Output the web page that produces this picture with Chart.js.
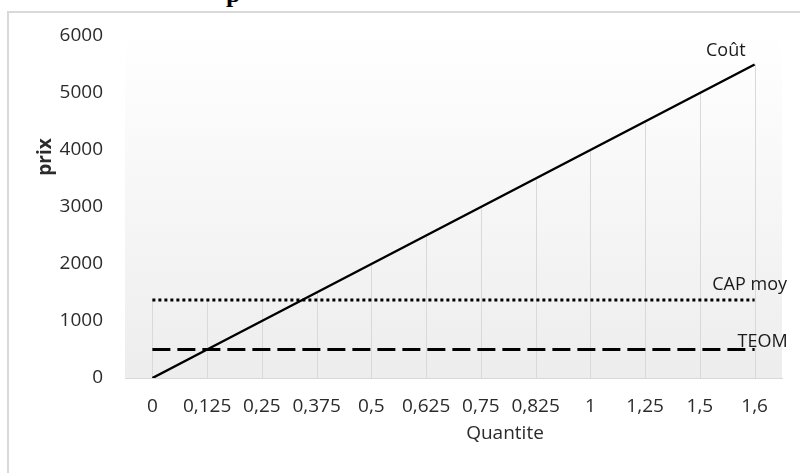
<!DOCTYPE html>
<html>
<head>
<meta charset="utf-8">
<script src="https://cdn.jsdelivr.net/npm/chart.js@4"></script>
<style>
    html, body { margin: 0; padding: 0; background: #fff; overflow: hidden; }
    #wrap { position: relative; width: 800px; height: 473px; }
    #frame { position: absolute; left: 7px; top: 11px; width: 820px; height: 500px; border: 2px solid #d9d9d9; box-sizing: border-box; }
    #cut { position: absolute; left: 226px; top: -21px; font: bold 26px 'Liberation Serif', serif; color: #000; }
    canvas { position: absolute; left: 0; top: 0; }
</style>
</head>
<body>
<div id="wrap">
    <div id="cut">p</div>
    <div id="frame"></div>
    <canvas id="chart" width="800" height="473"></canvas>
</div>
<script>
const quantites = ['0', '0,125', '0,25', '0,375', '0,5', '0,625', '0,75', '0,825', '1', '1,25', '1,5', '1,6'];
const cout      = [0, 500, 1000, 1500, 2000, 2500, 3000, 3500, 4000, 4500, 5000, 5500];
const capMoy    = [1370, 1370, 1370, 1370, 1370, 1370, 1370, 1370, 1370, 1370, 1370, 1370];
const teom      = [500, 500, 500, 500, 500, 500, 500, 500, 500, 500, 500, 500];
const prixTicks = [0, 1000, 2000, 3000, 4000, 5000, 6000];

const FONT = "'Open Sans', 'Noto Sans', sans-serif";
const TXT  = '#2b2b2b';

// plot area gradient + drop lines (Excel style)
const plotBack = {
    id: 'plotBack',
    beforeDatasetsDraw(chart) {
        const { ctx, chartArea: a, scales } = chart;
        const g = ctx.createLinearGradient(0, a.top, 0, a.bottom);
        g.addColorStop(0, '#ffffff');
        g.addColorStop(1, '#ededed');
        ctx.save();
        ctx.fillStyle = g;
        ctx.fillRect(a.left, a.top, a.right - a.left, a.bottom - a.top);

        ctx.strokeStyle = '#d9d9d9';
        ctx.lineWidth = 1;
        quantites.forEach(function (q, i) {
            let top = 0;
            chart.data.datasets.forEach(function (ds) { top = Math.max(top, ds.data[i]); });
            const x = Math.round(scales.x.getPixelForValue(i)) + 0.5;
            ctx.beginPath();
            ctx.moveTo(x, scales.y.getPixelForValue(0));
            ctx.lineTo(x, scales.y.getPixelForValue(top));
            ctx.stroke();
        });
        ctx.restore();
    }
};

// series name next to last point + axis titles
const labels = {
    id: 'labels',
    afterDatasetsDraw(chart) {
        const { ctx, chartArea: a } = chart;
        ctx.save();
        ctx.font = '18px ' + FONT;
        ctx.fillStyle = '#1a1a1a';
        ctx.textBaseline = 'middle';
        chart.data.datasets.forEach(function (ds, i) {
            const pt = chart.getDatasetMeta(i).data[ds.data.length - 1];
            ctx.textAlign = ds.labelAlign;
            ctx.fillText(ds.label, pt.x + ds.labelDx, pt.y + ds.labelDy);
        });

        ctx.fillStyle = TXT;
        ctx.textAlign = 'center';
        ctx.font = '19px ' + FONT;
        ctx.fillText('Quantite', 505, a.bottom + 56);

        ctx.translate(46, 157);
        ctx.rotate(-Math.PI / 2);
        ctx.font = 'bold 19px ' + FONT;
        ctx.fillText('prix', 0, 0);
        ctx.restore();
    }
};

new Chart(document.getElementById('chart'), {
    type: 'line',
    data: {
        labels: quantites,
        datasets: [
            { label: 'Coût', data: cout, borderColor: '#000', borderWidth: 2.5,
              labelAlign: 'right', labelDx: -9, labelDy: -14 },
            { label: 'CAP moy', data: capMoy, borderColor: '#000', borderWidth: 3, borderDash: [3, 3],
              labelAlign: 'center', labelDx: -5, labelDy: -15 },
            { label: 'TEOM', data: teom, borderColor: '#000', borderWidth: 3, borderDash: [18, 7],
              labelAlign: 'center', labelDx: 8, labelDy: -8 }
        ]
    },
    options: {
        responsive: false,
        animation: false,
        layout: { padding: { top: 36, right: 18, bottom: 0, left: 0 } },
        elements: { point: { radius: 0 }, line: { tension: 0 } },
        plugins: { legend: { display: false }, tooltip: { enabled: false } },
        scales: {
            x: {
                offset: true,
                grid: { display: false, drawTicks: false },
                border: { display: true, color: '#d9d9d9', width: 1 },
                ticks: { color: TXT, padding: 17, maxRotation: 0, autoSkip: false, font: { family: FONT, size: 19 } },
                afterFit(scale) { scale.height = 95; }
            },
            y: {
                min: 0,
                max: 6000,
                afterBuildTicks(scale) { scale.ticks = prixTicks.map(v => ({ value: v })); },
                grid: { display: false, drawTicks: false },
                border: { display: false },
                ticks: { color: TXT, padding: 22, font: { family: FONT, size: 19 }, callback: v => String(v) },
                afterFit(scale) { scale.width = 125; }
            }
        }
    },
    plugins: [plotBack, labels]
});
</script>
</body>
</html>
